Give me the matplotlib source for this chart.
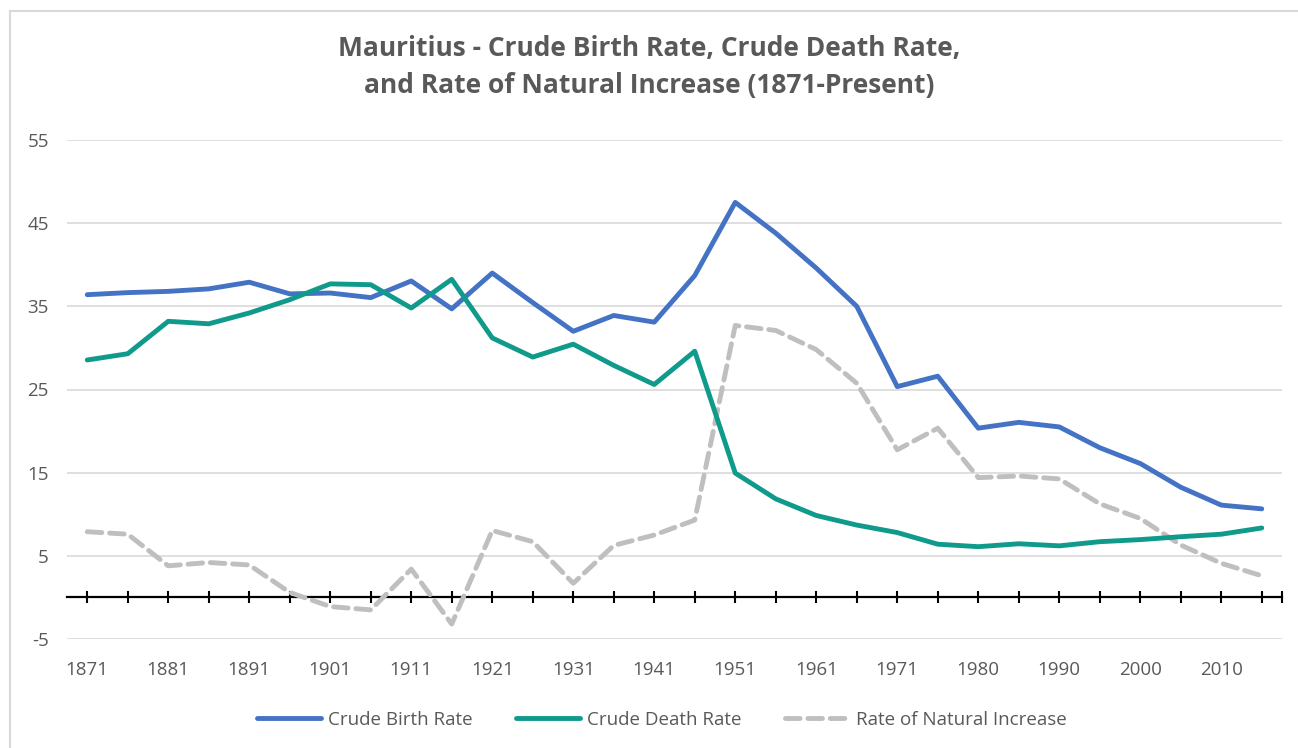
import matplotlib
matplotlib.use("Agg")
import matplotlib.pyplot as plt
from matplotlib.lines import Line2D

# Years (categories) and values
years = ["1871", "1876", "1881", "1886", "1891", "1896", "1901", "1906", "1911", "1916",
         "1921", "1926", "1931", "1936", "1941", "1946", "1951", "1956", "1961", "1966",
         "1971", "1975", "1980", "1985", "1990", "1995", "2000", "2005", "2010", "2015"]

birth_rate = [36.4, 36.65, 36.8, 37.1, 37.9, 36.5, 36.6, 36.05, 38.05, 34.7,
              39.0, 35.45, 32.0, 33.9, 33.1, 38.7, 47.5, 43.8, 39.6, 35.0,
              25.35, 26.6, 20.35, 21.05, 20.5, 18.0, 16.1, 13.25, 11.1, 10.65]

death_rate = [28.55, 29.3, 33.2, 32.9, 34.2, 35.8, 37.7, 37.6, 34.8, 38.25,
              31.2, 28.9, 30.45, 27.9, 25.6, 29.6, 14.95, 11.85, 9.85, 8.7,
              7.8, 6.4, 6.1, 6.45, 6.2, 6.7, 6.95, 7.3, 7.6, 8.35]

natural_increase = [7.9, 7.6, 3.8, 4.2, 3.9, 0.6, -1.1, -1.5, 3.4, -3.2,
                    8.05, 6.7, 1.7, 6.25, 7.5, 9.3, 32.7, 32.1, 29.8, 25.75,
                    17.75, 20.35, 14.4, 14.6, 14.25, 11.25, 9.5, 6.3, 4.1, 2.6]

y_ticks = [-5, 5, 15, 25, 35, 45, 55]

plt.rcParams["font.family"] = ["Open Sans", "DejaVu Sans"]
plt.rcParams["axes.unicode_minus"] = False
text_color = "#595959"

fig = plt.figure(figsize=(12.98, 7.48), dpi=100)
ax = fig.add_axes([67 / 1298, 1 - 639 / 748, (1282 - 67) / 1298, (639 - 140) / 748])

x = list(range(len(years)))

ax.plot(x, birth_rate, color="#4472C4", linewidth=3.5, label="Crude Birth Rate",
        solid_capstyle="round", solid_joinstyle="round", zorder=4)
ax.plot(x, death_rate, color="#0F9A8C", linewidth=3.5, label="Crude Death Rate",
        solid_capstyle="round", solid_joinstyle="round", zorder=4)
ax.plot(x, natural_increase, color="#BFBFBF", linewidth=3.5, linestyle=(0, (3, 1.6)),
        label="Rate of Natural Increase", dash_capstyle="round", zorder=3)

ax.set_xlim(-0.5, len(years) - 0.5)
ax.set_ylim(-5, 55)

# Horizontal gridlines
ax.set_yticks(y_ticks)
ax.grid(axis="y", color="#D9D9D9", linewidth=1.2)
ax.set_axisbelow(True)
for side in ["top", "right", "left", "bottom"]:
    ax.spines[side].set_visible(False)
ax.tick_params(axis="y", length=0, labelsize=13.5, labelcolor=text_color, pad=13)

# Category labels at the bottom, every other year
ax.set_xticks(x[::2])
ax.set_xticklabels(years[::2])
ax.tick_params(axis="x", length=0, labelsize=13.5, labelcolor=text_color, pad=16)

# Zero line with tick marks crossing it
zero_pos = (0 - (-5)) / (55 - (-5))
sec = ax.secondary_xaxis(zero_pos)
sec.set_xticks(x + [len(years) - 0.5])
sec.set_xticklabels([])
sec.tick_params(axis="x", direction="inout", length=9, width=1.5, color="black")
sec.spines["bottom"].set_color("black")
sec.spines["bottom"].set_linewidth(1.6)

# Title
fig.text(0.5, 1 - 67 / 748,
         "Mauritius - Crude Birth Rate, Crude Death Rate,\nand Rate of Natural Increase (1871-Present)",
         ha="center", va="center", fontsize=19, fontweight="bold", color=text_color,
         linespacing=1.45)

# Legend
leg = fig.legend(loc="center", bbox_to_anchor=(662 / 1298, 1 - 720 / 748), ncol=3,
                 frameon=False, fontsize=13.5, handlelength=3.4, columnspacing=2.3,
                 handletextpad=0.4)
for t in leg.get_texts():
    t.set_color(text_color)

# Chart area border (top and left edges visible)
fig.add_artist(Line2D([10 / 1298, 10 / 1298], [0, 1 - 11 / 748], transform=fig.transFigure,
                      color="#D9D9D9", linewidth=1.5))
fig.add_artist(Line2D([10 / 1298, 1], [1 - 11 / 748, 1 - 11 / 748], transform=fig.transFigure,
                      color="#D9D9D9", linewidth=1.5))

fig.savefig("out.png", dpi=100)
